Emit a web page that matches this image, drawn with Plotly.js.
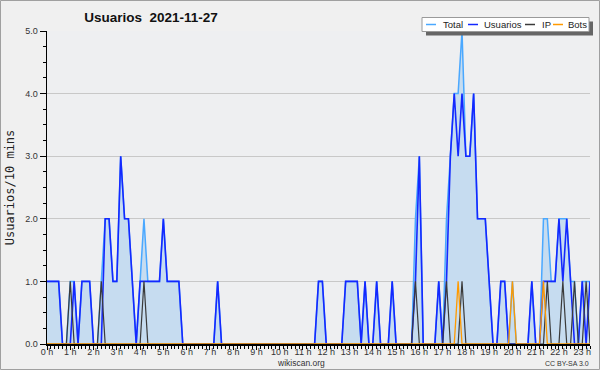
<!DOCTYPE html>
<html><head><meta charset="utf-8">
<script src="https://cdn.plot.ly/plotly-3.0.1.min.js"></script>
<style>html,body{margin:0;padding:0;background:#f0f0f0}#chart{width:600px;height:370px}</style>
</head><body><div id="chart"></div>
<script>
// 10-minute slots of 2021-11-27 (0:00 .. 23:20)
const hourLabels = ["0 h","1 h","2 h","3 h","4 h","5 h","6 h","7 h","8 h","9 h","10 h","11 h",
  "12 h","13 h","14 h","15 h","16 h","17 h","18 h","19 h","20 h","21 h","22 h","23 h"];
const seriesNames = ["Total","Usuarios","IP","Bots"];

const total = [
  1,1,1,1,0,0,1,1,0,1,1,1,
  0,0,1,2,2,1,1,3,2,2,1,0,
  1,2,1,1,1,1,2,1,1,1,1,0,
  0,0,0,0,0,0,0,0,1,0,0,0,
  0,0,0,0,0,0,0,0,0,0,0,0,
  0,0,0,0,0,0,0,0,0,0,1,1,
  0,0,0,0,0,1,1,1,1,0,1,0,
  0,1,0,0,0,1,0,0,0,0,0,2,
  3,0,0,0,0,1,0,2,3,4,4,5,
  3,3,4,2,2,2,1,0,0,1,1,0,
  1,0,0,0,0,1,0,0,2,2,1,1,
  2,2,2,1,1,0,1,1,1];
const usuarios = [
  1,1,1,1,0,0,0,1,0,1,1,1,
  0,0,0,2,2,1,1,3,2,2,1,0,
  1,1,1,1,1,1,2,1,1,1,1,0,
  0,0,0,0,0,0,0,0,1,0,0,0,
  0,0,0,0,0,0,0,0,0,0,0,0,
  0,0,0,0,0,0,0,0,0,0,1,1,
  0,0,0,0,0,1,1,1,1,0,1,0,
  0,1,0,0,0,1,0,0,0,0,0,1,
  3,0,0,0,0,1,0,1,3,4,3,4,
  3,3,4,2,2,2,1,0,0,1,1,0,
  0,0,0,0,0,1,0,0,1,1,1,1,
  2,1,2,1,0,0,1,0,1];
const ip = [
  0,0,0,0,0,0,1,0,0,0,0,0,
  0,0,1,0,0,0,0,0,0,0,0,0,
  0,1,0,0,0,0,0,0,0,0,0,0,
  0,0,0,0,0,0,0,0,0,0,0,0,
  0,0,0,0,0,0,0,0,0,0,0,0,
  0,0,0,0,0,0,0,0,0,0,0,0,
  0,0,0,0,0,0,0,0,0,0,0,0,
  0,0,0,0,0,0,0,0,0,0,0,1,
  0,0,0,0,0,0,0,1,0,0,0,1,
  0,0,0,0,0,0,0,0,0,0,0,0,
  0,0,0,0,0,0,0,0,0,1,0,0,
  0,1,0,0,1,0,0,1,0];
const bots = [
  0,0,0,0,0,0,0,0,0,0,0,0,
  0,0,0,0,0,0,0,0,0,0,0,0,
  0,0,0,0,0,0,0,0,0,0,0,0,
  0,0,0,0,0,0,0,0,0,0,0,0,
  0,0,0,0,0,0,0,0,0,0,0,0,
  0,0,0,0,0,0,0,0,0,0,0,0,
  0,0,0,0,0,0,0,0,0,0,0,0,
  0,0,0,0,0,0,0,0,0,0,0,0,
  0,0,0,0,0,0,0,0,0,0,1,0,
  0,0,0,0,0,0,0,0,0,0,0,0,
  1,0,0,0,0,0,0,0,1,0,0,0,
  0,0,0,0,0,0,0,0,0];

// styles
const colors = ["#4aa8ff","#1428ff","#3a3a3a","#ff9a00"];
const widths = [1.5,1.6,1.2,1.3];

const x = usuarios.map((_, i) => i / 6);
const series = [total, usuarios, ip, bots];

const traces = series.map((ys, k) => ({
  x: x, y: ys, type: "scatter", mode: "lines", name: seriesNames[k],
  line: {color: colors[k], width: widths[k], shape: "linear"},
  fill: k === 0 ? "tozeroy" : "none",
  fillcolor: "#c6dcf0",
  hoverinfo: "skip"
}));

// pixel helpers (plot area 47..590 x 31..344)
const L = 47, R = 590, T = 31, B = 344;
const px = v => (v - L) / (R - L);
const py = v => (B - v) / (B - T);

const shapes = [];
const annotations = [];
// outer frame
shapes.push({type:"rect", xref:"paper", yref:"paper", x0:px(0.5), x1:px(599.5), y0:py(0.5), y1:py(369.5),
  line:{color:"#a0a0a0", width:1}, fillcolor:"rgba(0,0,0,0)", layer:"above"});
// legend shadow + box
shapes.push({type:"rect", xref:"paper", yref:"paper", x0:px(426), x1:px(593), y0:py(21.5), y1:py(35.5),
  line:{width:0}, fillcolor:"#666666", layer:"above"});
shapes.push({type:"rect", xref:"paper", yref:"paper", x0:px(422), x1:px(589), y0:py(17.5), y1:py(31.5),
  line:{color:"#9a9a9a", width:1}, fillcolor:"#ffffff", layer:"above"});
const legSample = [426, 468, 525, 553];
const legText = [441.5, 483, 540.5, 567];
seriesNames.forEach((n, k) => {
  shapes.push({type:"line", xref:"paper", yref:"paper", x0:px(legSample[k]), x1:px(legSample[k]+10),
    y0:py(24.5), y1:py(24.5), line:{color:colors[k], width:1.5}, layer:"above"});
  annotations.push({xref:"paper", yref:"paper", x:px(legText[k]), y:py(24.5), xanchor:"left", yanchor:"middle",
    text:n, showarrow:false, borderpad:0,
    font:{family:"Liberation Sans, Arial, sans-serif", size:9.5, color:"#222"}});
});
annotations.push({xref:"paper", yref:"paper", x:px(300.5), y:py(363), xanchor:"center", yanchor:"middle",
  text:"wikiscan.org", showarrow:false, borderpad:0,
  font:{family:"Liberation Sans, Arial, sans-serif", size:8.5, color:"#333"}});
annotations.push({xref:"paper", yref:"paper", x:px(590), y:py(363.5), xanchor:"right", yanchor:"middle",
  text:"CC BY-SA 3.0", showarrow:false, borderpad:0,
  font:{family:"Liberation Sans, Arial, sans-serif", size:7, color:"#333"}});

const layout = {
  width: 600, height: 370,
  margin: {l: L, r: 600 - R, t: T, b: 370 - B, pad: 0},
  paper_bgcolor: "#f0f0f0", plot_bgcolor: "#eeeff1",
  showlegend: false,
  title: {text: "<b>Usuarios\u00a0\u00a02021-11-27</b>", xref:"container", yref:"container",
    x: 151/600, xanchor:"center", y: 1 - 17/370, yanchor:"middle",
    font:{family:"Liberation Sans, Arial, sans-serif", size:13.5, color:"#111"}},
  xaxis: {
    range: [0, (usuarios.length - 1) / 6], fixedrange:true,
    tickmode:"array", tickvals: hourLabels.map((_, h) => h), ticktext: hourLabels,
    ticks:"outside", ticklen:4, tickwidth:1, tickcolor:"#000",
    ticklabelstandoff:-6,
    minor:{dtick:1/6, tick0:0, ticks:"outside", ticklen:3, tickwidth:1, tickcolor:"#000", showgrid:false},
    showline:true, linecolor:"#000", linewidth:2, showgrid:false, zeroline:false,
    tickfont:{family:"Liberation Sans, Arial, sans-serif", size:9, color:"#333"}
  },
  yaxis: {
    range:[0,5], fixedrange:true, dtick:1, tick0:0, tickformat:".1f",
    ticks:"outside", ticklen:6, tickwidth:1, tickcolor:"#000",
    minor:{dtick:0.25, ticks:"outside", ticklen:3, tickwidth:1, tickcolor:"#000", showgrid:false},
    showline:true, linecolor:"#000", linewidth:1.5, zeroline:false,
    showgrid:true, gridcolor:"#c8c8c8", gridwidth:1,
    tickfont:{family:"Liberation Sans, Arial, sans-serif", size:9, color:"#333"},
    title:{text:"Usuarios/10 mins", standoff:8,
      font:{family:"DejaVu Sans Mono, monospace", size:12, color:"#222"}}
  },
  shapes: shapes, annotations: annotations
};

Plotly.newPlot("chart", traces, layout, {staticPlot:true, displayModeBar:false});
</script></body></html>
